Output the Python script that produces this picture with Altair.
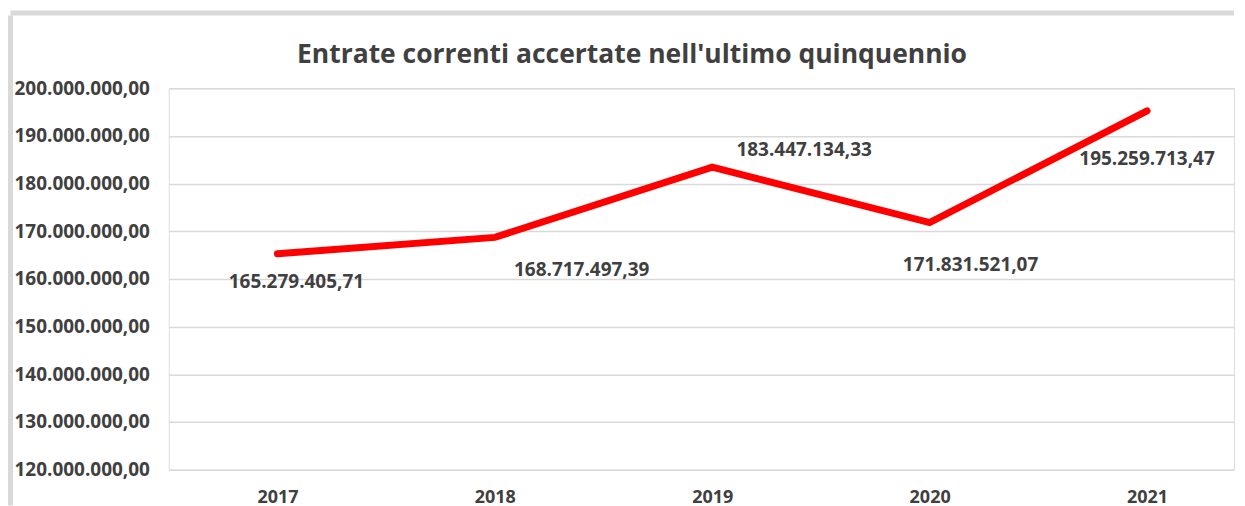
import altair as alt
import pandas as pd

years = [2017, 2018, 2019, 2020, 2021]
values = [165279405.71, 168717497.39, 183447134.33, 171831521.07, 195259713.47]
y_ticks = [120e6, 130e6, 140e6, 150e6, 160e6, 170e6, 180e6, 190e6, 200e6]
title_text = "Entrate correnti accertate nell'ultimo quinquennio"

df = pd.DataFrame({"anno": years, "valore": values})

W, H = 1067, 382
FONT = "Open Sans"
TXT = "#404040"

x_enc = alt.X("anno:Q", scale=alt.Scale(domain=[2016.5, 2021.4], nice=False, zero=False),
              axis=alt.Axis(values=years, format="d", grid=False, domain=False, ticks=False,
                            tickSize=0, labelFontSize=18, labelFont=FONT, labelFontWeight="bold",
                            labelColor=TXT, labelBaseline="alphabetic", labelPadding=33,
                            labelFlush=False, title=None))
y_enc = alt.Y("valore:Q", scale=alt.Scale(domain=[120e6, 200e6], nice=False, zero=False),
              axis=alt.Axis(values=y_ticks, format=",.2f", domain=False, ticks=False, tickSize=0,
                            labelFontSize=19, labelFont=FONT, labelFontWeight="bold",
                            labelColor=TXT, labelAlign="left", labelBaseline="middle",
                            labelPadding=155, gridColor="#d9d9d9", gridWidth=1.5,
                            labelFlush=False, title=None))

base = alt.Chart(df)

line = base.mark_line(color="#FF0000", strokeWidth=7, strokeCap="round", strokeJoin="miter").encode(
    x=x_enc, y=y_enc)

offsets = {2017: (19, 28), 2018: (87, 33), 2019: (92, -17), 2020: (41, 43), 2021: (0, 48)}
labels = []
for yr in years:
    dx, dy = offsets[yr]
    labels.append(
        base.transform_filter(alt.datum.anno == yr).mark_text(
            font=FONT, fontSize=19, fontWeight="bold", color=TXT, dx=dx, dy=dy,
            align="center", baseline="middle").encode(
            x="anno:Q", y="valore:Q", text=alt.Text("valore:Q", format=",.2f"))
    )

one = pd.DataFrame({"t": [title_text]})
title = alt.Chart(one).mark_text(font=FONT, fontSize=26.5, fontWeight="bold", color=TXT,
                                 align="center", baseline="alphabetic").encode(
    x=alt.value(464), y=alt.value(-25), text="t:N")

border_left = alt.Chart(one).mark_rule(color="#d9d9d9", strokeWidth=5).encode(
    x=alt.value(-158.5), y=alt.value(-73), y2=alt.value(H + 36))
border_top = alt.Chart(one).mark_rule(color="#d9d9d9", strokeWidth=5).encode(
    x=alt.value(-158.5), x2=alt.value(W), y=alt.value(-75.5))

chart = alt.layer(border_left, border_top, line, *labels, title).properties(
    width=W, height=H, padding={"left": 0, "top": 2, "right": 0, "bottom": 0}
).configure_view(stroke=None).configure(
    locale={"number": {"decimal": ",", "thousands": ".", "grouping": [3], "currency": ["", " €"]}}
)

chart.save("out.html", embed_options={"renderer": "svg", "actions": False})
